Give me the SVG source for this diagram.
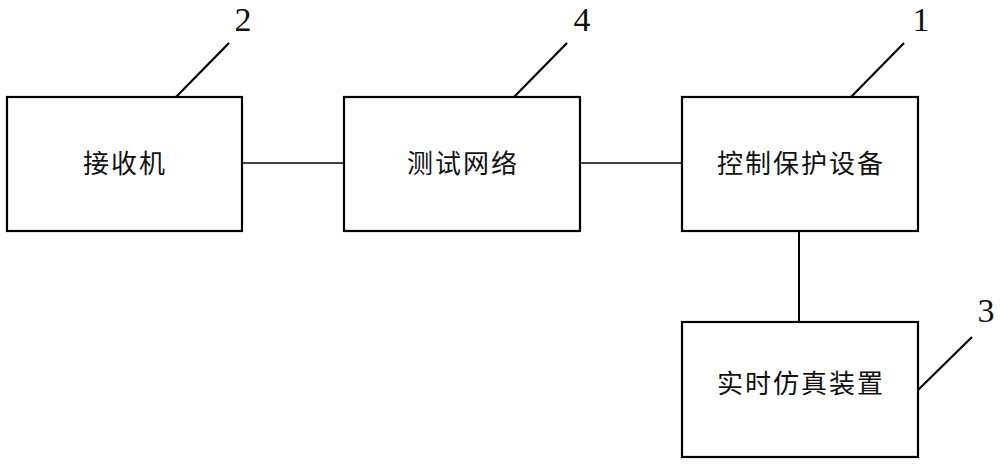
<svg xmlns="http://www.w3.org/2000/svg" width="1000" height="464" viewBox="0 0 1000 464">
<style>
.box{fill:#fff;stroke:#000;stroke-width:2.2}
.lbl{font-family:"Noto Sans CJK SC","Noto Sans CJK JP",sans-serif;font-size:26px;letter-spacing:2px;text-anchor:middle;fill:#111}
.num{font-family:"Liberation Serif",serif;font-size:34px;text-anchor:middle;fill:#111}
.lead{stroke:#000;stroke-width:2.2;fill:none}
.conn{stroke:#000;stroke-width:1.5;fill:none}
</style>
<rect width="1000" height="464" fill="#fff"/>
<g id="connectors">
<line class="conn" x1="242" y1="163" x2="344" y2="163"/>
<line class="conn" x1="580" y1="163" x2="682" y2="163"/>
<line class="conn" x1="799" y1="231" x2="799" y2="322" style="stroke-width:2"/>
</g>
<g id="node2">
<rect class="box" x="7" y="97" width="235" height="134"/>
<text class="lbl" x="125" y="173">接收机</text>
<line class="lead" x1="176" y1="97" x2="229" y2="43"/>
<text class="num" x="243" y="31">2</text>
</g>
<g id="node4">
<rect class="box" x="344" y="97" width="236" height="134"/>
<text class="lbl" x="463" y="173">测试网络</text>
<line class="lead" x1="514" y1="97" x2="567" y2="43"/>
<text class="num" x="582" y="31">4</text>
</g>
<g id="node1">
<rect class="box" x="682" y="97" width="236" height="134"/>
<text class="lbl" x="801" y="173">控制保护设备</text>
<line class="lead" x1="851" y1="97" x2="904" y2="43"/>
<text class="num" x="921" y="31">1</text>
</g>
<g id="node3">
<rect class="box" x="682" y="322" width="236" height="135"/>
<text class="lbl" x="801" y="393">实时仿真装置</text>
<line class="lead" x1="918" y1="390" x2="972" y2="337"/>
<text class="num" x="986" y="322">3</text>
</g>
</svg>
